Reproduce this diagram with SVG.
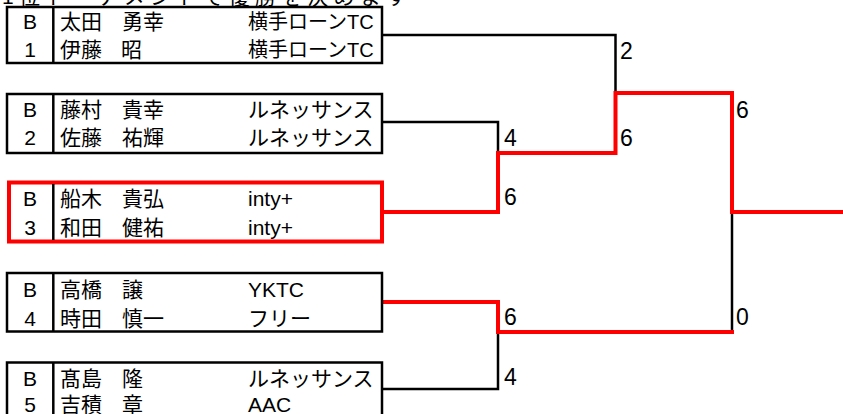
<svg xmlns="http://www.w3.org/2000/svg" width="843" height="414" viewBox="0 0 843 414">
<style>
text{font-family:"Liberation Sans","Noto Sans CJK JP",sans-serif;fill:#000}
.t{font-size:21px}
.tm{font-size:20px}
.c{text-anchor:middle}
.s{font-size:23px}
.box{fill:#fff;stroke:#000;stroke-width:2.5}
.rbox{fill:#fff;stroke:#f00;stroke-width:4}
.div{stroke:#000;stroke-width:2.5}
.bl{fill:none;stroke:#000;stroke-width:2.5;stroke-linecap:square}
.rd{fill:none;stroke:#f00;stroke-width:4;stroke-linecap:square}
</style>
<rect width="843" height="414" fill="#fff"/>
<text class="t" x="2" y="4" textLength="405">1位トーナメントで優勝を決めます</text>
<g id="connectors">
<path class="bl" d="M382,35 H615.5 V93"/>
<path class="bl" d="M382,122 H498 V153"/>
<path class="bl" d="M382,389 H498 V332"/>
<path class="bl" d="M732,332 V212"/>
<path class="rd" d="M383,212 H498 V153 H615.5 V93 H732 V212 H845"/>
<path class="rd" d="M382,302 H498 V332 H732"/>
</g>
<g id="pair1">
<rect class="box" x="7" y="7" width="375" height="56"/>
<line class="div" x1="53.3" y1="7" x2="53.3" y2="63"/>
<text class="t c" x="30" y="29">B</text>
<text class="t c" x="30" y="57">1</text>
<text class="t" x="60" y="29">太田 <tspan x="122">勇幸</tspan></text>
<text class="t" x="60" y="57">伊藤 <tspan x="121">昭</tspan></text>
<text class="tm" x="248" y="29">横手ローンTC</text>
<text class="tm" x="248" y="57">横手ローンTC</text>
</g>
<g id="pair2">
<rect class="box" x="7" y="94" width="375" height="59"/>
<line class="div" x1="53.3" y1="94" x2="53.3" y2="153"/>
<text class="t c" x="30" y="117">B</text>
<text class="t c" x="30" y="145">2</text>
<text class="t" x="60" y="117">藤村 <tspan x="122">貴幸</tspan></text>
<text class="t" x="60" y="145">佐藤 <tspan x="122">祐輝</tspan></text>
<text class="t" x="248" y="117">ルネッサンス</text>
<text class="t" x="248" y="145">ルネッサンス</text>
</g>
<g id="pair3">
<rect class="rbox" x="9" y="182.5" width="373" height="59"/>
<line class="div" x1="53.3" y1="184" x2="53.3" y2="240"/>
<text class="t c" x="30" y="206">B</text>
<text class="t c" x="30" y="235">3</text>
<text class="t" x="60" y="206">船木 <tspan x="122">貴弘</tspan></text>
<text class="t" x="60" y="235">和田 <tspan x="122">健祐</tspan></text>
<text class="t" x="248" y="206">inty+</text>
<text class="t" x="248" y="235">inty+</text>
</g>
<g id="pair4">
<rect class="box" x="7" y="273" width="375" height="58.5"/>
<line class="div" x1="53.3" y1="273" x2="53.3" y2="331.5"/>
<text class="t c" x="30" y="297">B</text>
<text class="t c" x="30" y="326">4</text>
<text class="t" x="60" y="297">高橋 <tspan x="122">譲</tspan></text>
<text class="t" x="60" y="326">時田 <tspan x="122">慎一</tspan></text>
<text class="t" x="248" y="297">YKTC</text>
<text class="t" x="248" y="326">フリー</text>
</g>
<g id="pair5">
<rect class="box" x="7" y="362.5" width="375" height="60"/>
<line class="div" x1="53.3" y1="362.5" x2="53.3" y2="420"/>
<text class="t c" x="30" y="386">B</text>
<text class="t c" x="30" y="412">5</text>
<text class="t" x="60" y="386">髙島 <tspan x="122">隆</tspan></text>
<text class="t" x="60" y="412">吉積 <tspan x="122">章</tspan></text>
<text class="t" x="248" y="386">ルネッサンス</text>
<text class="t" x="248" y="412">AAC</text>
</g>
<g id="scores">
<text class="s" x="620" y="59">2</text>
<text class="s" x="736" y="118">6</text>
<text class="s" x="504" y="146">4</text>
<text class="s" x="620" y="146">6</text>
<text class="s" x="504" y="205">6</text>
<text class="s" x="504" y="325">6</text>
<text class="s" x="736" y="325">0</text>
<text class="s" x="504" y="385">4</text>
</g>
</svg>
